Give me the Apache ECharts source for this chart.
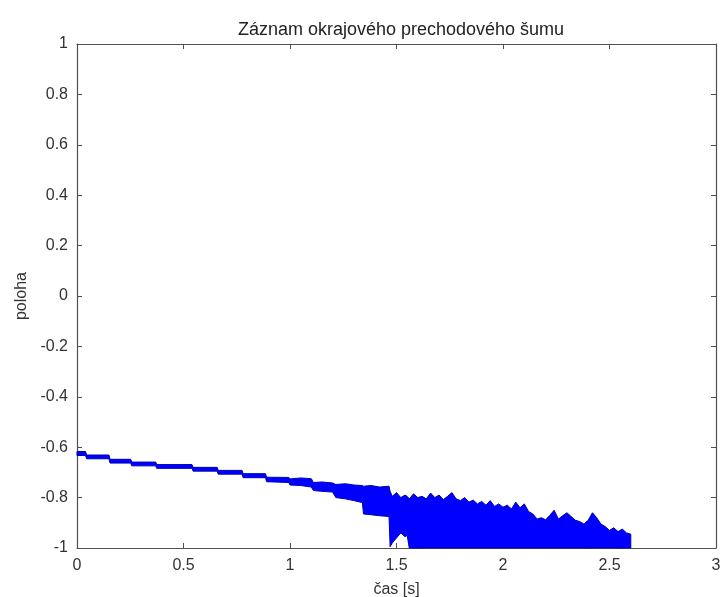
<!DOCTYPE html>
<html>
<head>
<meta charset="utf-8">
<script src="https://cdn.jsdelivr.net/npm/echarts@6/dist/echarts.min.js"></script>
<style>
html,body{margin:0;padding:0;background:#fff;}
#c{width:724px;height:597px;}
</style>
</head>
<body>
<div id="c"></div>
<script>
// Chart text
const titleText = 'Záznam okrajového prechodového šumu';
const xName = 'čas [s]';
const yName = 'poloha';

// Axis tick settings
const xTicks = [0, 0.5, 1, 1.5, 2, 2.5, 3];
const yTicks = [-1, -0.8, -0.6, -0.4, -0.2, 0, 0.2, 0.4, 0.6, 0.8, 1];

// Signal envelope: time [s], upper edge, lower edge
const time = [
  0.000, 0.040, 0.045, 0.150, 0.155, 0.252, 0.257, 0.370, 0.374, 0.540,
  0.545, 0.658, 0.663, 0.775, 0.780, 0.885, 0.890, 0.995, 1.000, 1.050,
  1.100, 1.110, 1.150, 1.200, 1.215, 1.260, 1.300, 1.340, 1.345, 1.380,
  1.420, 1.465, 1.470, 1.480, 1.500, 1.520, 1.540, 1.550, 1.560, 1.580,
  1.600, 1.620, 1.640, 1.660, 1.680, 1.700, 1.720, 1.740, 1.760, 1.780,
  1.800, 1.820, 1.840, 1.860, 1.880, 1.900, 1.920, 1.940, 1.960, 1.980,
  2.000, 2.020, 2.040, 2.060, 2.080, 2.100, 2.120, 2.140, 2.160, 2.180,
  2.200, 2.220, 2.240, 2.260, 2.280, 2.300, 2.320, 2.340, 2.360, 2.380,
  2.400, 2.420, 2.440, 2.460, 2.480, 2.500, 2.520, 2.540, 2.560, 2.580,
  2.600
];
const upper = [
  -0.617, -0.617, -0.631, -0.631, -0.648, -0.648, -0.659, -0.659, -0.669, -0.669,
  -0.680, -0.680, -0.692, -0.692, -0.705, -0.705, -0.719, -0.720, -0.726, -0.722,
  -0.725, -0.740, -0.738, -0.742, -0.748, -0.745, -0.750, -0.752, -0.755, -0.752,
  -0.758, -0.755, -0.775, -0.795, -0.780, -0.800, -0.790, -0.795, -0.805, -0.785,
  -0.800, -0.795, -0.805, -0.782, -0.800, -0.790, -0.808, -0.795, -0.780, -0.805,
  -0.812, -0.800, -0.818, -0.810, -0.825, -0.815, -0.830, -0.812, -0.835, -0.825,
  -0.838, -0.830, -0.845, -0.818, -0.840, -0.825, -0.855, -0.865, -0.885, -0.880,
  -0.888, -0.870, -0.850, -0.885, -0.872, -0.860, -0.875, -0.890, -0.895, -0.905,
  -0.890, -0.860, -0.880, -0.905, -0.915, -0.930, -0.920, -0.935, -0.925, -0.940,
  -0.945
];
const lower = [
  -0.633, -0.633, -0.646, -0.646, -0.663, -0.663, -0.674, -0.674, -0.684, -0.684,
  -0.695, -0.695, -0.707, -0.707, -0.721, -0.721, -0.737, -0.740, -0.750, -0.752,
  -0.758, -0.772, -0.775, -0.778, -0.800, -0.805, -0.812, -0.820, -0.865, -0.868,
  -0.872, -0.875, -0.995, -0.980, -0.960, -0.940, -0.955, -0.950, -1.000, -1.000,
  -1.000, -1.000, -1.000, -1.000, -1.000, -1.000, -1.000, -1.000, -1.000, -1.000,
  -1.000, -1.000, -1.000, -1.000, -1.000, -1.000, -1.000, -1.000, -1.000, -1.000,
  -1.000, -1.000, -1.000, -1.000, -1.000, -1.000, -1.000, -1.000, -1.000, -1.000,
  -1.000, -1.000, -1.000, -1.000, -1.000, -1.000, -1.000, -1.000, -1.000, -1.000,
  -1.000, -1.000, -1.000, -1.000, -1.000, -1.000, -1.000, -1.000, -1.000, -1.000,
  -1.000
];

const FONT = '"Liberation Sans", Arial, sans-serif';
const axisColor = '#505050';
const labelColor = '#333333';

const xMin = xTicks[0], xMax = xTicks[xTicks.length - 1], xInt = xTicks[1] - xTicks[0];
const yMin = yTicks[0], yMax = yTicks[yTicks.length - 1], yInt = 0.2;

function xAxisCfg(pos, show) {
  return {
    type: 'value', position: pos, min: xMin, max: xMax, interval: xInt,
    name: show ? xName : '', nameLocation: 'middle', nameGap: 34,
    nameTextStyle: { fontFamily: FONT, fontSize: 16, color: labelColor },
    axisLine: { show: true, onZero: false, lineStyle: { color: axisColor, width: 1.2 } },
    axisTick: { show: true, inside: true, length: 5, lineStyle: { color: axisColor } },
    axisLabel: { show: show, margin: 10, fontFamily: FONT, fontSize: 16, color: labelColor,
      formatter: v => String(Math.round(v * 10) / 10) },
    splitLine: { show: false }
  };
}
function yAxisCfg(pos, show) {
  return {
    type: 'value', position: pos, min: yMin, max: yMax, interval: yInt,
    name: show ? yName : '', nameLocation: 'middle', nameGap: 45, nameRotate: 90,
    nameTextStyle: { fontFamily: FONT, fontSize: 16, color: labelColor },
    axisLine: { show: true, onZero: false, lineStyle: { color: axisColor, width: 1.2 } },
    axisTick: { show: true, inside: true, length: 5, lineStyle: { color: axisColor } },
    axisLabel: { show: show, margin: 9, fontFamily: FONT, fontSize: 16, color: labelColor,
      formatter: v => { const r = Math.round(v * 10) / 10; return String(r === 0 ? 0 : r); } },
    splitLine: { show: false }
  };
}

function renderBand(params, api) {
  const pts = [];
  for (let i = 0; i < time.length; i++) pts.push(api.coord([time[i], upper[i]]));
  for (let i = time.length - 1; i >= 0; i--) pts.push(api.coord([time[i], lower[i]]));
  return {
    type: 'polygon',
    shape: { points: pts },
    style: { fill: '#0000ff', stroke: '#0000b4', lineWidth: 1 }
  };
}

const chart = echarts.init(document.getElementById('c'), null, { renderer: 'canvas' });
chart.setOption({
  animation: false,
  backgroundColor: '#ffffff',
  title: {
    text: titleText, left: 396, top: 16, textAlign: 'center',
    textStyle: { fontFamily: FONT, fontSize: 18, fontWeight: 'normal', color: '#222' }
  },
  grid: { left: 77, top: 44, right: 8, bottom: 49, containLabel: false, outerBoundsMode: 'none' },
  xAxis: [xAxisCfg('bottom', true), xAxisCfg('top', false)],
  yAxis: [yAxisCfg('left', true), yAxisCfg('right', false)],
  series: [
    {
      type: 'custom', silent: true, xAxisIndex: 0, yAxisIndex: 0,
      data: [[time[0], upper[0]]],
      renderItem: renderBand
    }
  ]
});
</script>
</body>
</html>
